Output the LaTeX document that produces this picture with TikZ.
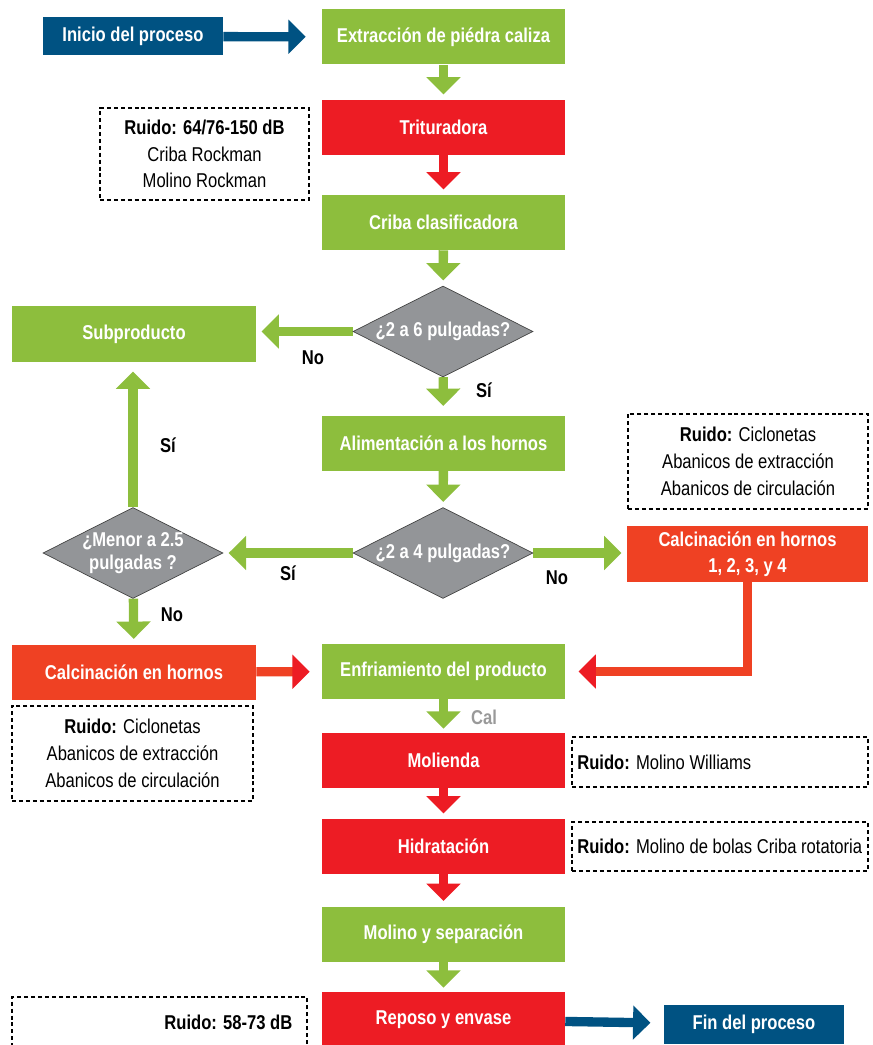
\documentclass[tikz,border=0pt]{standalone}
\usepackage{fontspec}
\setmainfont{Liberation Sans}[FakeStretch=0.83]
\usetikzlibrary{shapes.geometric,arrows.meta,backgrounds}

\definecolor{verde}{RGB}{141,190,61}
\definecolor{rojo}{RGB}{237,28,36}
\definecolor{naranja}{RGB}{239,65,35}
\definecolor{azul}{RGB}{0,82,130}
\definecolor{gris}{RGB}{147,149,152}

\begin{document}
\begin{tikzpicture}[x=0.75pt, y=-0.75pt,  % coordenadas en pixeles
    every node/.style={font=\fontsize{15}{20}\selectfont},
    paso/.style={fill=#1, text=white, font=\fontsize{15}{19.5}\selectfont\bfseries,
                 minimum width=182.25pt, minimum height=41.25pt, inner sep=0pt, align=center},
    extremo/.style={fill=azul, text=white, font=\fontsize{15}{19.5}\selectfont\bfseries,
                 minimum width=135pt, minimum height=28.5pt, inner sep=0pt},
    decision/.style={diamond, draw=black!75, line width=0.5pt, fill=gris,
                 minimum width=135pt, minimum height=68.25pt, inner sep=0pt},
    dtexto/.style={text=white, font=\fontsize{15}{17}\selectfont\bfseries, align=center},
    ruido/.style={draw, dashed, dash pattern=on 3pt off 2.2pt, line width=0.8pt,
                 inner sep=0pt, align=center},
    etiq/.style={font=\fontsize{15}{19.5}\selectfont\bfseries},
    flecha/.style={draw=#1, line width=7pt, shorten >=4pt,
                 -{Triangle[width=25pt,length=13pt]}},
  ]
  \useasboundingbox (0,0) rectangle (873,1045);

  % columna central
  \node[paso=verde] (extr) at (443.5,37)   {Extracción de piédra caliza};
  \node[paso=rojo]  (trit) at (443.5,127.5) {Trituradora};
  \node[paso=verde] (crib) at (443.5,222.5) {Criba clasificadora};
  \node[decision, label={[dtexto]center:¿2 a 6 pulgadas?}] (q1) at (443,331.5) {};
  \node[paso=verde] (alim) at (443.5,443)  {Alimentación a los hornos};
  \node[decision, label={[dtexto]center:¿2 a 4 pulgadas?}] (q2) at (443,553) {};
  \node[paso=verde] (enfr) at (443.5,671.5) {Enfriamiento del producto};
  \node[paso=rojo]  (moli) at (443.5,760.5) {Molienda};
  \node[paso=rojo]  (hidr) at (443.5,846.5) {Hidratación};
  \node[paso=verde] (msep) at (443.5,934)  {Molino y separación};
  \node[paso=rojo]  (repo) at (443.5,1019.5) {Reposo y envase};

  % inicio y fin
  \node[extremo] (ini) at (133,36.5)  {Inicio del proceso};
  \node[extremo, minimum height=29.25pt] (fin) at (754,1024.5) {Fin del proceso};

  % lado izquierdo
  \node[paso=verde, minimum width=183pt, minimum height=42pt] (subp) at (134,334) {Subproducto};
  \node[decision, label={[dtexto]center:¿Menor a 2.5\\pulgadas ?}] (q3) at (133,553) {};
  \node[paso=naranja, minimum width=183pt] (calc) at (134,672) {Calcinación en hornos};

  % lado derecho
  \node[paso=naranja, minimum width=180.75pt, minimum height=42pt] (calc4) at (747.5,554)
       {Calcinación en hornos\\1, 2, 3, y 4};

  % cuadros de ruido
  \node[ruido, minimum width=156.75pt, minimum height=69pt] (r1) at (204.5,154)
       {\textbf{Ruido: 64/76-150 dB}\\Criba Rockman\\Molino Rockman};
  \node[ruido, minimum width=180pt, minimum height=71.25pt] (r2) at (748,461.5)
       {\textbf{Ruido:} Ciclonetas\\Abanicos de extracción\\Abanicos de circulación};
  \node[ruido, minimum width=180.75pt, minimum height=71.25pt] (r3) at (132.5,753.5)
       {\textbf{Ruido:} Ciclonetas\\Abanicos de extracción\\Abanicos de circulación};
  \node[ruido, minimum width=222pt, minimum height=37.5pt, text width=214pt, align=flush left] (r4) at (720,762)
       {\textbf{Ruido:} Molino Williams};
  \node[ruido, minimum width=222pt, minimum height=36.75pt, text width=214pt, align=flush left] (r5) at (720,846.5)
       {\textbf{Ruido:} Molino de bolas Criba rotatoria};
  \node[ruido, minimum width=221.25pt, minimum height=48pt] (r6) at (159.5,1029) {};
  \node[etiq, anchor=east] (r6t) at (297,1022) {Ruido: 58-73 dB};

  % etiquetas
  \node[etiq] (no1) at (313,358) {No};
  \node[etiq] (si1) at (484,390) {Sí};
  \node[etiq] (si2) at (168,445) {Sí};
  \node[etiq] (si3) at (288,573) {Sí};
  \node[etiq] (no2) at (557,578) {No};
  \node[etiq] (no3) at (172,615) {No};
  \node[etiq, text=black!40] (cal) at (484,717) {Cal};

  % flechas
  \begin{scope}[on background layer]
    \draw[flecha=azul, shorten >=12pt] (ini) -- (extr);
    \draw[flecha=verde] (extr) -- (trit);
    \draw[flecha=rojo] (trit) -- (crib);
    \draw[flecha=verde] (crib) -- (q1);
    \draw[flecha=verde] (q1.west) -- (q1.west -| subp.east);
    \draw[flecha=verde, shorten >=7pt] (q1) -- (alim);
    \draw[flecha=verde] (alim) -- (q2);
    \draw[flecha=verde] (q2) -- (q3);
    \draw[flecha=verde] (q2.east) -- (q2.east -| calc4.west);
    \draw[flecha=verde, shorten >=7pt] (q3.north) -- (q3.north |- subp.south);
    \draw[flecha=verde] (q3) -- (calc);
    \draw[flecha=naranja, shorten >=9pt, -{Triangle[width=25pt,length=13pt,color=rojo]}] (calc) -- (enfr);
    \draw[flecha=naranja, shorten >=10pt, -{Triangle[width=25pt,length=13pt,color=rojo]}] (calc4.south) |- (enfr.east);
    \draw[flecha=verde, shorten >=3pt] (enfr) -- (moli);
    \draw[flecha=rojo] (moli) -- (hidr);
    \draw[flecha=rojo] (hidr) -- (msep);
    \draw[flecha=verde, shorten >=3pt] (msep) -- (repo);
    \draw[flecha=azul, shorten >=10pt] (repo) -- (fin);
  \end{scope}

\end{tikzpicture}
\end{document}
